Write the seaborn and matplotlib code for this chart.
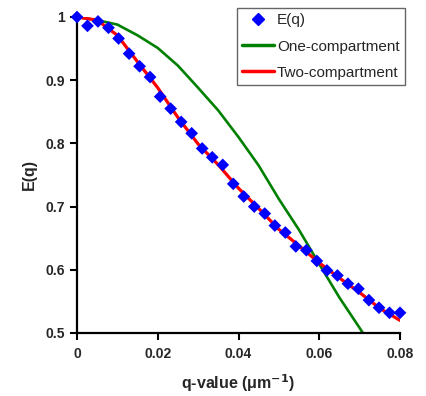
import seaborn as sns
import pandas as pd
import matplotlib.pyplot as plt
from matplotlib.lines import Line2D

# measured signal E(q)
q_data = [0.0, 0.0026, 0.0052, 0.0078, 0.0103, 0.0129, 0.0155, 0.0181,
          0.0206, 0.0232, 0.0258, 0.0284, 0.0310, 0.0335, 0.0361, 0.0387,
          0.0413, 0.0439, 0.0465, 0.0490, 0.0516, 0.0542, 0.0568, 0.0594,
          0.0619, 0.0645, 0.0671, 0.0697, 0.0723, 0.0748, 0.0774, 0.0800]
e_data = [1.000, 0.986, 0.993, 0.983, 0.966, 0.942, 0.922, 0.905,
          0.874, 0.855, 0.834, 0.816, 0.792, 0.778, 0.766, 0.736,
          0.716, 0.700, 0.689, 0.670, 0.659, 0.637, 0.631, 0.614,
          0.599, 0.591, 0.578, 0.570, 0.552, 0.540, 0.532, 0.532]

# model fits
q_fit = [0.0, 0.005, 0.01, 0.015, 0.02, 0.025, 0.03, 0.035, 0.04,
         0.045, 0.05, 0.055, 0.06, 0.065, 0.07, 0.075, 0.08]
one_comp = [1.000, 0.995, 0.988, 0.971, 0.951, 0.923, 0.888, 0.852, 0.810,
            0.765, 0.712, 0.663, 0.609, 0.556, 0.508, 0.458, 0.410]
two_comp = [1.000, 0.995, 0.971, 0.929, 0.888, 0.841, 0.799, 0.766, 0.729,
            0.697, 0.664, 0.638, 0.611, 0.587, 0.564, 0.539, 0.520]

data_df = pd.DataFrame({"q": q_data, "E": e_data})
fit_df = pd.DataFrame({"q": q_fit, "one": one_comp, "two": two_comp})

sns.set_style("white")
plt.rcParams["font.family"] = ["Liberation Sans", "DejaVu Sans"]

fig = plt.figure(figsize=(4.26, 3.96), dpi=100)
ax = fig.add_axes([77 / 426, 1 - 333 / 396, (400 - 77) / 426, (333 - 17) / 396])

sns.lineplot(data=fit_df, x="q", y="one", color="#008000", linewidth=1.9, ax=ax)
sns.lineplot(data=fit_df, x="q", y="two", color="#FF0000", linewidth=2.3, ax=ax)
sns.scatterplot(data=data_df, x="q", y="E", marker="D", color="#0000FF", s=42,
                edgecolor="none", ax=ax, zorder=3, clip_on=False)

ax.set_xlim(0, 0.08)
ax.set_ylim(0.5, 1.0)
ax.set_xticks([0, 0.02, 0.04, 0.06, 0.08])
ax.set_xticklabels(["0", "0.02", "0.04", "0.06", "0.08"], fontweight="bold", fontsize=10)
ax.set_yticks([0.5, 0.6, 0.7, 0.8, 0.9, 1.0])
ax.set_yticklabels(["0.5", "0.6", "0.7", "0.8", "0.9", "1"], fontweight="bold", fontsize=10)
ax.tick_params(axis="both", direction="out", length=5, width=1.5, color="black",
               bottom=True, left=True)
ax.tick_params(axis="x", pad=5)
ax.tick_params(axis="y", pad=4)
sns.despine(ax=ax)
for s in ["left", "bottom"]:
    ax.spines[s].set_color("black")
    ax.spines[s].set_linewidth(1.6)

ax.set_xlabel("q-value (\u03bcm$^{\\mathbf{-1}}$)", fontweight="bold", fontsize=11.5, labelpad=8)
ax.set_ylabel("E(q)", fontweight="bold", fontsize=11.5, labelpad=6)

handles = [Line2D([], [], marker="D", color="#0000FF", linestyle="none", markersize=6),
           Line2D([], [], color="#008000", linewidth=2.5),
           Line2D([], [], color="#FF0000", linewidth=2.5)]
leg = ax.legend(handles, ["E(q)", "One-compartment", "Two-compartment"],
                loc="upper right", bbox_to_anchor=(405 / 426, 1 - 8 / 396),
                bbox_transform=fig.transFigure, fontsize=11,
                frameon=True, fancybox=False, handlelength=2.1, handletextpad=0.2,
                borderpad=0.35, borderaxespad=0, labelspacing=0.8)
leg.get_frame().set_edgecolor("#404040")
leg.get_frame().set_linewidth(1.0)

fig.savefig("out.png", dpi=100)
